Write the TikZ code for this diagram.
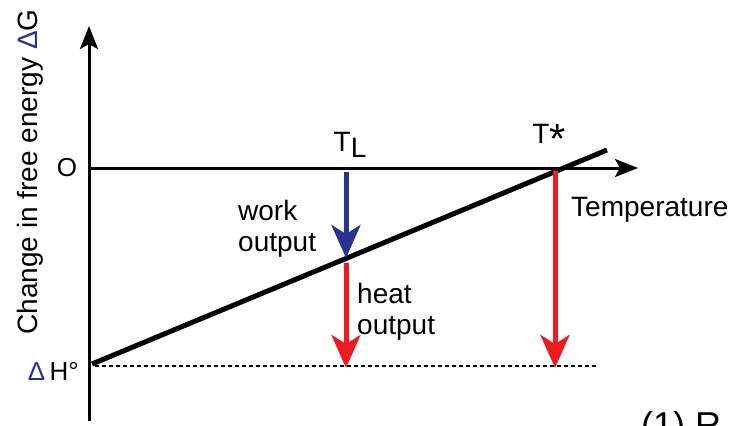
\documentclass[tikz,border=0pt]{standalone}
\usepackage{fontspec}
\setmainfont{Liberation Sans}
\usetikzlibrary{arrows.meta}

\definecolor{navy}{RGB}{40,50,145}
\definecolor{hotred}{RGB}{236,28,36}

\begin{document}
\begin{tikzpicture}[
  x=1pt,y=-1pt,
  font=\fontsize{28}{32}\selectfont,
  axis/.style={line width=3pt,-{Stealth[length=23pt,width=18pt,inset=5pt]}},
  slope/.style={line width=5pt},
  work/.style={navy,line width=5pt,-{Stealth[length=33pt,width=29pt,inset=9pt]}},
  heat/.style={hotred,line width=5pt,-{Stealth[length=33pt,width=29pt,inset=9pt]}},
  lbl/.style={inner sep=0pt,align=left},
  small/.style={font=\fontsize{26}{30}\selectfont}
]
\useasboundingbox (0,0) rectangle (735,425);

% axes
\coordinate (orig) at (89,421);
\coordinate (ytop) at (89,26);
\coordinate (zero) at (89,168);
\coordinate (xend) at (638,168);
\draw[axis] (orig) -- (ytop);
\draw[axis] (zero) -- (xend);

% free energy line and enthalpy level
\coordinate (lo) at (92,364);
\coordinate (hi) at (607,150);
\coordinate (dl) at (95,366);
\coordinate (dr) at (596,366);
\draw[slope] (lo) -- (hi);
\draw[line width=1.2pt,dash pattern=on 4pt off 3pt] (dl) -- (dr);

% arrows at T_L and T*
\coordinate (tl0) at (346,172);
\coordinate (tl1) at (346,258);
\coordinate (tl2) at (346,263);
\coordinate (tl3) at (346,368);
\coordinate (ts0) at (555,171);
\coordinate (ts1) at (555,368);
\draw[work] (tl0) -- (tl1);
\draw[heat] (tl2) -- (tl3);
\draw[heat] (ts0) -- (ts1);

% labels
\node[lbl,rotate=90] (ylab) at (30,172) {Change in free energy {\color{navy}Δ}G};
\node[lbl,small] (zlab) at (67,168) {O};
\node[lbl,small,anchor=east] (hlab) at (79,371) {{\color{navy}Δ}\,H°};
\node[lbl] (tllab) at (350,145) {T\raisebox{-6pt}{L}};
\node[lbl] (tslab) at (549,139) {T\raisebox{-10pt}{\scalebox{1.5}{*}}};
\node[lbl,anchor=west] (tlab) at (571,210) {Temperature};
\node[lbl,anchor=west] (wlab) at (238,229) {work\\[-1pt]output};
\node[lbl,anchor=west] (hqlab) at (357,312) {heat\\[-1pt]output};
\node[lbl,anchor=base west,font=\fontsize{36}{40}\selectfont] (cap) at (641,437) {(1) R};
\end{tikzpicture}
\end{document}
